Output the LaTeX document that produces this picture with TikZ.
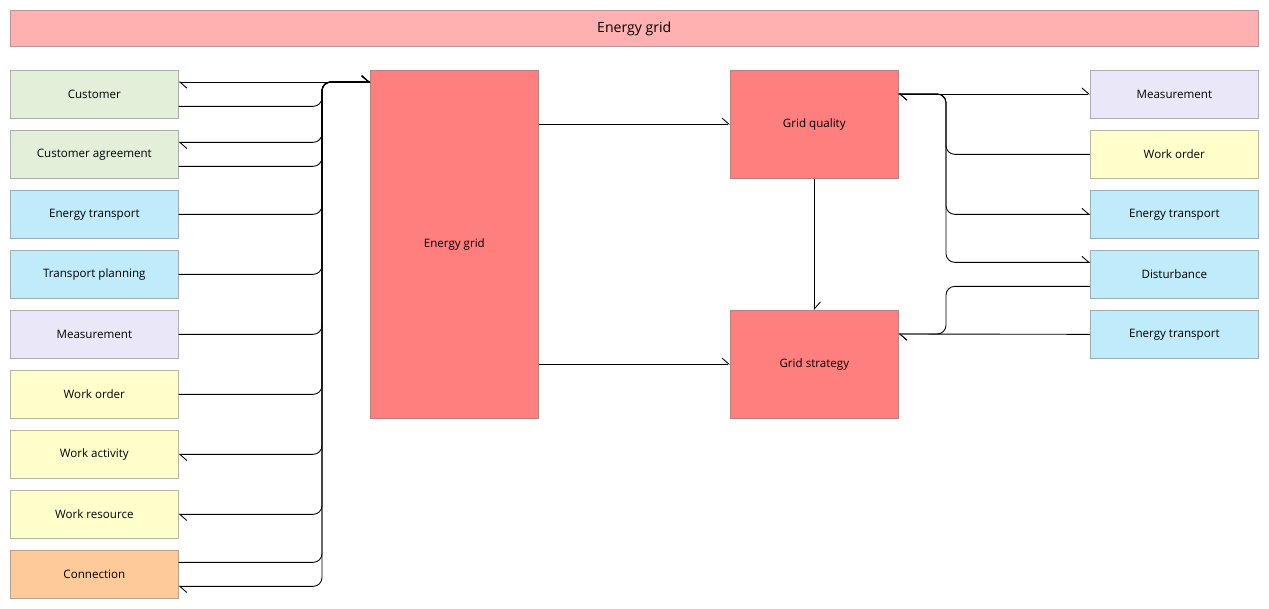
\documentclass[tikz,border=0pt]{standalone}
\usepackage{fontspec}
\setmainfont{Open Sans}
\usetikzlibrary{arrows.meta}
\definecolor{cT}{HTML}{FFB0B0}
\definecolor{cR}{HTML}{FF7F7F}
\definecolor{cG}{HTML}{E2EFD9}
\definecolor{cB}{HTML}{BFEBFB}
\definecolor{cL}{HTML}{EAE8F8}
\definecolor{cY}{HTML}{FFFFCC}
\definecolor{cO}{HTML}{FFCA99}
\begin{document}
\begin{tikzpicture}[x=0.02cm,y=-0.02cm,
 box/.style={draw=#1!60!black!70, line width=0.4pt, fill=#1, inner sep=0pt, font=\fontsize{6.6}{8}\selectfont},
 con/.style={draw=black, line width=0.5pt, rounded corners=5pt},
 ar/.style={-{Straight Barb[harpoon,length=4pt,width=7pt]}},
 ra/.style={{Straight Barb[harpoon,length=4pt,width=7pt]}-}]
\useasboundingbox (0,0) rectangle (1269,609);
\node[box=cT, minimum width=24.96cm, minimum height=0.72cm, anchor=north west, font=\fontsize{8}{10}\selectfont] (title) at (10,10) {Energy grid};
\foreach \n/\t/\c [count=\i from 0] in {c1/Customer/cG,c2/Customer agreement/cG,c3/Energy transport/cB,c4/Transport planning/cB,c5/Measurement/cL,c6/Work order/cY,c7/Work activity/cY,c8/Work resource/cY,c9/Connection/cO}
 \node[box=\c, minimum width=3.36cm, minimum height=0.96cm, anchor=north west] (\n) at (10,70+60*\i) {\t};
\foreach \n/\t/\c [count=\i from 0] in {r1/Measurement/cL,r2/Work order/cY,r3/Energy transport/cB,r4/Disturbance/cB,r5/Energy transport/cB}
 \node[box=\c, minimum width=3.36cm, minimum height=0.96cm, anchor=north west] (\n) at (1090,70+60*\i) {\t};
\node[box=cR, minimum width=3.36cm, minimum height=6.96cm, anchor=north west] (eg) at (370,70) {Energy grid};
\node[box=cR, minimum width=3.36cm, minimum height=2.16cm, anchor=north west] (gq) at (730,70) {Grid quality};
\node[box=cR, minimum width=3.36cm, minimum height=2.16cm, anchor=north west] (gs) at (730,310) {Grid strategy};
% left bus
\coordinate (egin) at ([yshift=-12*0.02cm]eg.north west);
\draw[con,ar] (egin) -- (c1.east |- egin);
\foreach \n/\dy/\a in {c1/12/ra, c2/-12/ar, c2/12/ra, c3/0/ra, c4/0/ra, c5/0/ra, c6/0/ra, c7/0/ar, c8/0/ar, c9/-12/ra, c9/12/ar}
 \draw[con,\a] (egin) -- (322,82) |- ([yshift=-\dy*0.02cm]\n.east);
% middle
\draw[con,ar] (eg.east |- 0,124) -- (gq.west |- 0,124);
\draw[con,ar] (eg.east |- 0,364) -- (gs.west |- 0,364);
\draw[con,ar] (gq.south) -- (gs.north);
% right
\coordinate (gqo) at ([yshift=-24*0.02cm]gq.north east);
\draw[con,{Straight Barb[harpoon,length=4pt,width=7pt]}-{Straight Barb[harpoon,length=4pt,width=7pt]}] (gqo) -- (r1.west |- gqo);
\draw[con,ra] (gqo) -- (946,94) |- (r2.west);
\draw[con,ar] (gqo) -- (946,94) |- (r3.west);
\draw[con,ar] (gqo) -- (946,94) |- ([yshift=12*0.02cm]r4.west);
\coordinate (gsi) at ([yshift=-24*0.02cm]gs.north east);
\draw[con,ar] ([yshift=-12*0.02cm]r4.west) -| (946,334) -- (gsi);
\draw[con,ar] (r5.west) -- (gsi);
\end{tikzpicture}
\end{document}
